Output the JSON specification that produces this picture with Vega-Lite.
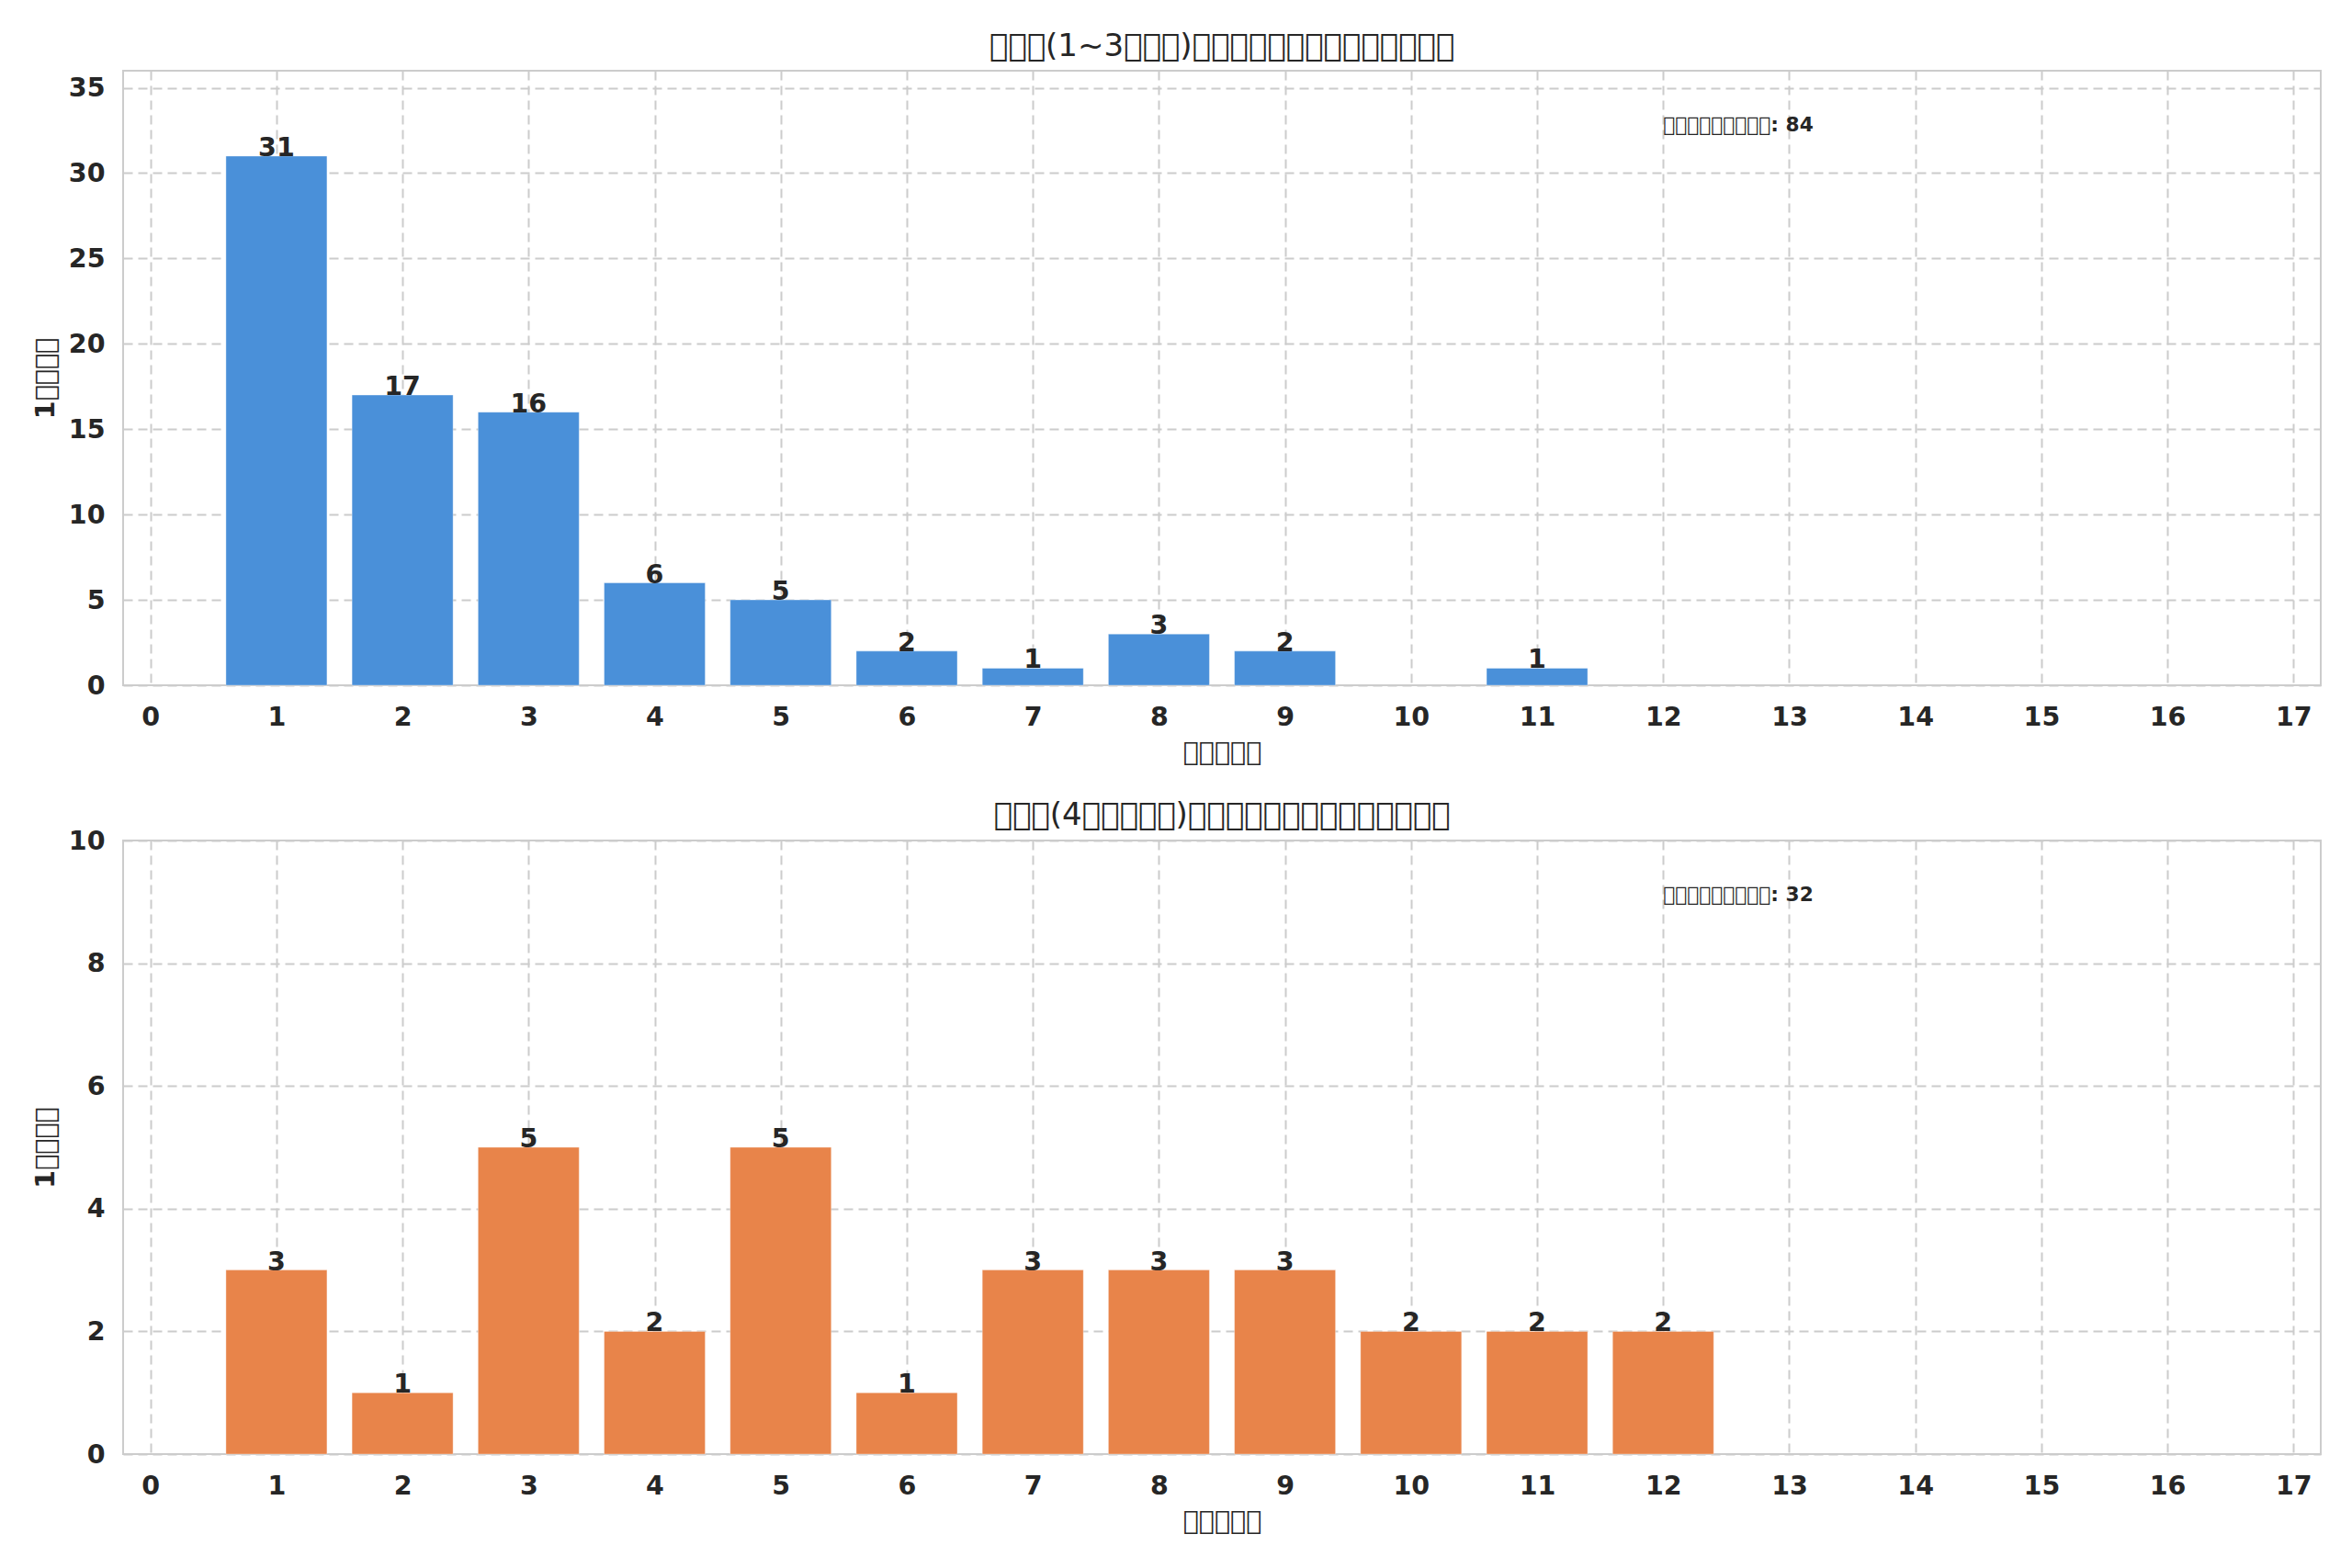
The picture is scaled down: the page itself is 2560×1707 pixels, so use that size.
{
  "$schema": "https://vega.github.io/schema/vega-lite/v6.json",
  "padding": {"left": 34, "top": 33, "right": 30, "bottom": 10},
  "background": "white",
  "config": {
    "font": "DejaVu Sans",
    "view": {"stroke": "#cccccc", "strokeWidth": 2},
    "axis": {
      "domain": false,
      "ticks": false,
      "grid": true,
      "gridColor": "#cccccc",
      "gridDash": [10, 6],
      "gridWidth": 2,
      "labelFont": "DejaVu Sans",
      "labelFontWeight": "bold",
      "labelFontSize": 28.5,
      "labelColor": "#262626",
      "titleFont": "DejaVu Sans",
      "titleFontSize": 28.5,
      "titleFontWeight": "bold",
      "titleColor": "#262626"
    },
    "axisX": {"labelPadding": 20, "titlePadding": 10},
    "axisY": {"labelPadding": 20, "titlePadding": 10},
    "title": {"font": "DejaVu Sans", "fontSize": 34, "fontWeight": "normal", "color": "#262626", "offset": 9},
    "concat": {"spacing": 36}
  },
  "datasets": {
    "early": [
      {"count": 1, "users": 31},
      {"count": 2, "users": 17},
      {"count": 3, "users": 16},
      {"count": 4, "users": 6},
      {"count": 5, "users": 5},
      {"count": 6, "users": 2},
      {"count": 7, "users": 1},
      {"count": 8, "users": 3},
      {"count": 9, "users": 2},
      {"count": 11, "users": 1}
    ],
    "late": [
      {"count": 1, "users": 3},
      {"count": 2, "users": 1},
      {"count": 3, "users": 5},
      {"count": 4, "users": 2},
      {"count": 5, "users": 5},
      {"count": 6, "users": 1},
      {"count": 7, "users": 3},
      {"count": 8, "users": 3},
      {"count": 9, "users": 3},
      {"count": 10, "users": 2},
      {"count": 11, "users": 2},
      {"count": 12, "users": 2}
    ]
  },
  "vconcat": [
    {
      "width": 2392,
      "height": 669,
      "title": "\ue000\ue000\ue000(1~3\ue000\ue000\ue000)\ue000\ue000\ue000\ue000\ue000\ue000\ue000\ue000\ue000\ue000\ue000\ue000\ue000\ue000",
      "encoding": {
        "x": {
          "field": "count",
          "type": "quantitative",
          "scale": {"domain": [-0.18, 17.18], "nice": false, "zero": false},
          "axis": {"values": [0, 1, 2, 3, 4, 5, 6, 7, 8, 9, 10, 11, 12, 13, 14, 15, 16, 17], "title": "\ue000\ue000\ue000\ue000\ue000"}
        },
        "y": {
          "field": "users",
          "type": "quantitative",
          "scale": {"domain": [0, 36], "nice": false},
          "axis": {"values": [0, 5, 10, 15, 20, 25, 30, 35], "title": "1\ue000\ue000\ue000\ue000"}
        }
      },
      "layer": [
        {
          "data": {"name": "early"},
          "mark": {"type": "bar", "width": 110, "color": "#4a90d9", "stroke": "#ffffff", "strokeOpacity": 0.35, "strokeWidth": 1}
        },
        {
          "data": {"name": "early"},
          "mark": {"type": "text", "baseline": "alphabetic", "fontSize": 28.5, "fontWeight": "bold", "color": "#262626"},
          "encoding": {"text": {"field": "users", "type": "quantitative"}}
        },
        {
          "data": {"values": [{"count": 12, "users": 32.8, "label": "\ue000\ue000\ue000\ue000\ue000\ue000\ue000\ue000\ue000: 84"}]},
          "mark": {"type": "text", "align": "left", "baseline": "middle", "fontSize": 21.7, "fontWeight": "bold", "color": "#262626"},
          "encoding": {"text": {"field": "label", "type": "nominal"}}
        }
      ]
    },
    {
      "width": 2392,
      "height": 668,
      "title": {
        "text": "\ue000\ue000\ue000(4\ue000\ue000\ue000\ue000\ue000)\ue000\ue000\ue000\ue000\ue000\ue000\ue000\ue000\ue000\ue000\ue000\ue000\ue000\ue000",
        "offset": -4
      },
      "encoding": {
        "x": {
          "field": "count",
          "type": "quantitative",
          "scale": {"domain": [-0.18, 17.18], "nice": false, "zero": false},
          "axis": {"values": [0, 1, 2, 3, 4, 5, 6, 7, 8, 9, 10, 11, 12, 13, 14, 15, 16, 17], "title": "\ue000\ue000\ue000\ue000\ue000"}
        },
        "y": {
          "field": "users",
          "type": "quantitative",
          "scale": {"domain": [0, 10], "nice": false},
          "axis": {"values": [0, 2, 4, 6, 8, 10], "title": "1\ue000\ue000\ue000\ue000"}
        }
      },
      "layer": [
        {
          "data": {"name": "late"},
          "mark": {"type": "bar", "width": 110, "color": "#e8844a", "stroke": "#ffffff", "strokeOpacity": 0.35, "strokeWidth": 1}
        },
        {
          "data": {"name": "late"},
          "mark": {"type": "text", "baseline": "alphabetic", "fontSize": 28.5, "fontWeight": "bold", "color": "#262626"},
          "encoding": {"text": {"field": "users", "type": "quantitative"}}
        },
        {
          "data": {"values": [{"count": 12, "users": 9.11, "label": "\ue000\ue000\ue000\ue000\ue000\ue000\ue000\ue000\ue000: 32"}]},
          "mark": {"type": "text", "align": "left", "baseline": "middle", "fontSize": 21.7, "fontWeight": "bold", "color": "#262626"},
          "encoding": {"text": {"field": "label", "type": "nominal"}}
        }
      ]
    }
  ]
}
